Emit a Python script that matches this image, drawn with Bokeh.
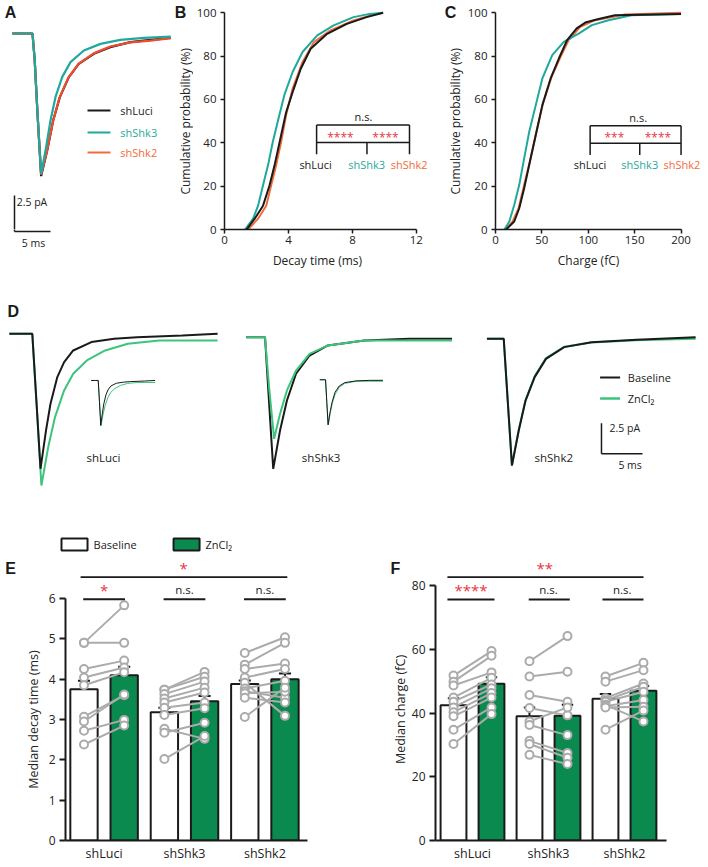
import math
import numpy as np
from bokeh.plotting import figure
from bokeh.layouts import column, row
from bokeh.models import Range1d, FixedTicker, Label
from bokeh.embed import file_html
from bokeh.resources import INLINE

FONT = "Open Sans"
LETTER_FONT = "Liberation Sans"
BLACK = "#1a1a1a"
TXT = "#222222"
TEAL = "#1fa99c"
ORANGE = "#f26b3a"
RED_A = "#ef4b2f"
GREEN_D = "#3cc47c"
ZN_FILL = "#0b8a4f"
GRAY = "#ababab"
STAR_RED = "#e8343f"

groups = ["shLuci", "shShk3", "shShk2"]

# ---------------- Panel A: averaged mEPSC traces (ms, pA)
a_luci_t = [-2.8, -1.0, 0.0, 0.3, 0.7, 1.2, 2.04, 2.87, 3.80, 5.05, 6.43, 8.52, 10.8, 13.6, 16.4, 19.2]
a_luci_i = [0, 0, 0, -1.8, -5.6, -9.9, -8.13, -6.04, -4.42, -3.03, -2.11, -1.41, -0.95, -0.60, -0.44, -0.30]
a_shk3_t = [-2.8, -1.0, 0.0, 0.3, 0.7, 1.2, 1.81, 2.5, 3.19, 4.12, 5.28, 7.13, 9.44, 12.2, 15.5, 19.2]
a_shk3_i = [0, 0, 0, -1.8, -5.6, -9.75, -8.13, -6.04, -4.42, -3.03, -1.99, -1.18, -0.72, -0.44, -0.30, -0.21]
a_shk2_t = [-2.8, -1.0, 0.0, 0.3, 0.7, 1.2, 2.0, 2.85, 3.75, 5.0, 6.4, 8.5, 10.8, 13.6, 16.4, 19.2]
a_shk2_i = [0, 0, 0, -1.8, -5.6, -9.8, -8.2, -6.1, -4.45, -3.05, -2.1, -1.38, -0.9, -0.62, -0.5, -0.32]

# ---------------- Panel B: cumulative decay time (ms, %)
decay_luci_ms = [1.38, 1.89, 2.41, 2.82, 3.13, 3.54, 3.85, 4.26, 4.77, 5.39, 6.42, 7.65, 8.89, 9.92]
decay_luci_pct = [0, 5, 11, 20.4, 29.6, 43.5, 54, 63.4, 74.2, 83.4, 90.3, 94.9, 98, 100]
decay_shk3_ms = [1.28, 1.79, 2.10, 2.41, 2.72, 3.02, 3.37, 3.74, 4.26, 4.88, 5.80, 6.83, 8.07, 9.09, 9.92]
decay_shk3_pct = [0, 5, 11, 20.4, 29.6, 40.4, 51, 62, 72.7, 81.9, 89.6, 94.2, 98, 99.5, 100]
decay_shk2_ms = [1.48, 2.10, 2.61, 2.92, 3.23, 3.54, 3.85, 4.26, 4.88, 5.60, 6.63, 8.07, 9.3, 9.92]
decay_shk2_pct = [0, 5, 11, 20.4, 29.6, 40.4, 52.7, 65, 77.3, 86.5, 91.9, 96.5, 99.1, 100]

# ---------------- Panel C: cumulative charge (fC, %)
charge_luci_fc = [11.4, 20.2, 25.6, 30.9, 36.3, 43.4, 50.5, 59.4, 68.3, 77.2, 87.5, 96.8, 110, 128.8, 200]
charge_luci_pct = [0, 3.7, 9.8, 19, 29.8, 43.6, 57.4, 69.7, 78.9, 87.4, 92.8, 95.5, 97.0, 98.9, 99.5]
charge_shk3_fc = [9.6, 14.9, 20.2, 25.6, 30.9, 36.3, 43.4, 50.5, 61.2, 73.6, 89.6, 103.9, 121.7, 146.6, 200]
charge_shk3_pct = [0, 3.7, 11.3, 20.6, 32.8, 45, 57.4, 69.7, 80.5, 86.6, 90.4, 94.3, 96.6, 98.9, 99.5]
charge_shk2_fc = [11.4, 18.5, 24.9, 30.9, 37.0, 44.1, 51.2, 60.5, 70.1, 78.9, 91.4, 107.4, 139.5, 200]
charge_shk2_pct = [0, 3.7, 9.8, 20.6, 31.3, 45, 58.2, 70.5, 79.7, 87.4, 93.5, 96.6, 99.2, 100]

# ---------------- Panel D: example traces, baseline vs ZnCl2 (ms from onset, pA)
d_luci_base_t = [-2.8, -1.0, 0.0, 0.5, 1.0, 1.67, 2.22, 3.05, 3.88, 4.99, 7.21, 9.98, 12.76, 18.3, 22.6]
d_luci_base_i = [0, 0, 0, -5.6, -11.25, -8.06, -5.83, -3.61, -2.36, -1.39, -0.69, -0.42, -0.28, -0.14, 0.0]
d_luci_zn_t = [-2.8, -1.0, 0.0, 0.5, 1.11, 1.94, 2.77, 3.88, 4.99, 6.66, 8.88, 11.65, 15.5, 22.6]
d_luci_zn_i = [0, 0, 0, -5.6, -12.64, -9.44, -6.94, -4.72, -3.33, -2.22, -1.39, -0.83, -0.56, -0.56]
d_shk3_base_t = [-2.3, -1.0, 0.0, 0.5, 1.0, 1.83, 2.67, 3.78, 5.43, 7.66, 12.1, 17.6, 22.8]
d_shk3_base_i = [0, 0, 0, -5.5, -10.97, -7.78, -5.28, -3.05, -1.53, -0.69, -0.28, -0.14, -0.14]
d_shk3_zn_t = [-2.3, -1.0, 0.0, 0.5, 1.11, 1.83, 2.67, 3.78, 5.43, 7.66, 12.1, 22.8]
d_shk3_zn_i = [0, 0, 0, -4.2, -8.47, -6.39, -4.44, -2.78, -1.39, -0.69, -0.28, -0.28]
d_shk2_base_t = [-2.05, -1.0, 0.0, 0.5, 1.0, 1.83, 2.66, 3.77, 5.15, 7.37, 10.7, 16.2, 23.4]
d_shk2_base_i = [0, 0, 0, -5.3, -10.56, -7.64, -5.14, -3.19, -1.67, -0.69, -0.28, -0.08, 0.14]
d_shk2_zn_t = [-2.05, -1.0, 0.0, 0.5, 1.0, 1.83, 2.66, 3.77, 5.15, 7.37, 10.7, 16.2, 23.4]
d_shk2_zn_i = [0, 0, 0, -5.3, -10.5, -7.6, -5.1, -3.12, -1.6, -0.66, -0.3, -0.12, 0.0]

# ---------------- Panel E: median decay time (ms)
E_bar_base = [3.75, 3.18, 3.88]
E_bar_zn = [4.10, 3.45, 4.00]
E_err_base = [3.96, 3.29, 3.97]
E_err_zn = [4.31, 3.58, 4.14]
E_pts_base = [
    [4.90, 4.90, 4.25, 4.04, 3.85, 3.07, 2.95, 2.72, 2.38],
    [3.74, 3.74, 3.63, 3.52, 3.42, 3.29, 3.11, 2.77, 2.67, 2.02],
    [4.65, 4.36, 4.25, 4.04, 3.91, 3.77, 3.70, 3.65, 3.54, 3.06],
]
E_pts_zn = [
    [5.83, 4.90, 4.46, 4.29, 4.17, 3.60, 3.62, 2.99, 2.85],
    [4.18, 4.06, 3.94, 3.79, 3.67, 3.42, 3.28, 2.52, 2.92, 2.59],
    [5.04, 4.90, 4.39, 4.25, 3.09, 3.96, 3.54, 3.69, 3.42, 3.79],
]
E_pair_sig = ["*", "n.s.", "n.s."]
E_all_sig = "*"

# ---------------- Panel F: median charge (fC)
F_bar_base = [42.5, 39.0, 44.5]
F_bar_zn = [49.2, 39.2, 47.0]
F_err_base = [44.7, 41.8, 46.0]
F_err_zn = [51.3, 42.6, 48.5]
F_pts_base = [
    [51.8, 49.9, 48.7, 44.9, 43.6, 41.8, 40.3, 39.0, 34.8, 30.3],
    [56.3, 51.5, 45.7, 41.6, 37.4, 36.3, 31.3, 30.3, 26.9],
    [51.5, 49.9, 44.7, 44.0, 43.6, 42.6, 42.2, 41.8, 34.8],
]
F_pts_zn = [
    [59.5, 58.0, 52.8, 51.1, 49.0, 47.8, 46.3, 44.9, 41.8, 39.7],
    [64.2, 53.0, 43.6, 39.3, 41.8, 33.1, 27.5, 26.0, 24.0],
    [55.8, 53.5, 49.3, 48.3, 46.7, 37.4, 44.1, 42.0, 40.8],
]
F_pair_sig = ["****", "n.s.", "n.s."]
F_all_sig = "**"


def label(p, x, y, text, size="12px", color=TXT, align="center", baseline="middle",
          bold=False, font=FONT, angle=0.0):
    p.add_layout(Label(x=x, y=y, text=text, text_font=font, text_font_size=size,
                       text_color=color, text_align=align, text_baseline=baseline,
                       text_font_style="bold" if bold else "normal", angle=angle))


def letter(p, x, y, text, align="center"):
    label(p, x, y, text, size="16px", bold=True, font=LETTER_FONT, color=BLACK, align=align)


def bare(w, h, xr, yr):
    p = figure(width=w, height=h, x_range=Range1d(*xr), y_range=Range1d(*yr),
               x_axis_location=None, y_axis_location=None, min_border=0,
               output_backend="svg", toolbar_location=None, tools="")
    p.outline_line_color = None
    p.grid.visible = False
    return p


def style_axes(p, lw, tick_out, size, label_size):
    for ax in p.axis:
        ax.axis_line_width = lw
        ax.axis_line_color = BLACK
        ax.major_tick_line_width = lw
        ax.major_tick_line_color = BLACK
        ax.major_tick_out = tick_out
        ax.major_tick_in = 0
        ax.minor_tick_line_color = None
        ax.major_label_text_font = FONT
        ax.major_label_text_font_size = size
        ax.major_label_text_color = TXT
        ax.axis_label_text_font = FONT
        ax.axis_label_text_font_size = label_size
        ax.axis_label_text_font_style = "normal"
        ax.axis_label_text_color = TXT
    p.grid.visible = False
    p.outline_line_color = None


# ======================= Panel A (its frame also hosts panel B's letter and y title)
A_X = (-4.444, 22.361)
pA = bare(193, 229, A_X, (-13.611, 2.292))
pAs = bare(193, 22, A_X, (-15.139, -13.611))     # continuation below (scale bar)
pA.line(a_luci_t, a_luci_i, line_color=BLACK, line_width=2.2)
pA.line(a_shk2_t, a_shk2_i, line_color=RED_A, line_width=2.2)
pA.line(a_shk3_t, a_shk3_i, line_color=TEAL, line_width=2.2)
a_leg_y = [-5.35, -6.875, -8.26]
a_leg_col = [BLACK, TEAL, ORANGE]
for name, col, yy in zip(groups, a_leg_col, a_leg_y):
    pA.segment(x0=[7.64], y0=[yy], x1=[10.83], y1=[yy], line_color=col, line_width=2)
    label(pA, 12.2, yy, name, size="11px", color=col if col != BLACK else TXT, align="left")
for q in (pA, pAs):
    q.segment(x0=[-2.5, -2.5], y0=[-11.25, -13.75], x1=[-2.5, 2.5], y1=[-13.75, -13.75],
              line_color=BLACK, line_width=1.5)
label(pA, -2.2, -11.71, "2.5 pA", size="10.5px", align="left")
label(pAs, 0.14, -14.58, "5 ms", size="10.5px")
letter(pA, -3.06, 1.46, "A")
letter(pA, 20.56, 1.49, "B")
label(pA, 21.25, -6.10, "Cumulative probability (%)", size="12px", angle=math.pi / 2)

# ======================= Panel B (frame extends right to host panel C's letter and y title)
pB = figure(width=271, height=251, x_range=Range1d(0, 15.01), y_range=Range1d(0, 105.68),
            min_border_left=28, min_border_right=0, min_border_top=0, min_border_bottom=22,
            output_backend="svg", toolbar_location=None, tools="")
pB.line(decay_shk2_ms, decay_shk2_pct, line_color=ORANGE, line_width=2)
pB.line(decay_shk3_ms, decay_shk3_pct, line_color=TEAL, line_width=2)
pB.line(decay_luci_ms, decay_luci_pct, line_color=BLACK, line_width=2)
pB.xaxis.ticker = FixedTicker(ticks=[0, 4, 8, 12])
pB.yaxis.ticker = FixedTicker(ticks=[0, 20, 40, 60, 80, 100])
pB.xaxis.bounds = (0, 12)
pB.yaxis.bounds = (0, 100)
style_axes(pB, 1.5, 4, "11.5px", "12px")
pB.yaxis.major_label_standoff = 4
pB.xaxis.major_label_standoff = 2
pB.segment(x0=[5.76, 5.76, 11.57, 5.76, 8.91], y0=[48.2, 48.2, 48.2, 40.1, 40.1],
           x1=[11.57, 5.76, 11.57, 11.57, 8.91], y1=[48.2, 34.7, 34.7, 40.1, 34.7],
           line_color=BLACK, line_width=1.5)
label(pB, 8.69, 52.2, "n.s.", size="11px")
label(pB, 7.25, 42.6, "****", size="12px", color=STAR_RED)
label(pB, 10.07, 42.6, "****", size="12px", color=STAR_RED)
label(pB, 5.70, 30.1, "shLuci", size="11px")
label(pB, 8.89, 30.1, "shShk3", size="11px", color=TEAL)
label(pB, 11.55, 30.1, "shShk2", size="11px", color=ORANGE)
letter(pB, 14.14, 100.37, "C")
label(pB, 14.45, 49.98, "Cumulative probability (%)", size="12px", angle=math.pi / 2)

# ======================= Panel C
pC = figure(width=244, height=251, x_range=Range1d(0, 229.6), y_range=Range1d(0, 105.68),
            min_border_left=29, min_border_right=0, min_border_top=0, min_border_bottom=22,
            output_backend="svg", toolbar_location=None, tools="")
pC.line(charge_shk2_fc, charge_shk2_pct, line_color=ORANGE, line_width=2)
pC.line(charge_shk3_fc, charge_shk3_pct, line_color=TEAL, line_width=2)
pC.line(charge_luci_fc, charge_luci_pct, line_color=BLACK, line_width=2)
pC.xaxis.ticker = FixedTicker(ticks=[0, 50, 100, 150, 200])
pC.yaxis.ticker = FixedTicker(ticks=[0, 20, 40, 60, 80, 100])
pC.xaxis.bounds = (0, 200)
pC.yaxis.bounds = (0, 100)
style_axes(pC, 1.5, 4, "11.5px", "12px")
pC.yaxis.major_label_standoff = 4
pC.xaxis.major_label_standoff = 2
pC.segment(x0=[102, 102, 200, 102, 155.5], y0=[47.9, 47.9, 47.9, 39.8, 39.8],
           x1=[200, 102, 200, 200, 155.5], y1=[47.9, 34.4, 34.4, 39.8, 34.4],
           line_color=BLACK, line_width=1.5)
label(pC, 153.8, 51.6, "n.s.", size="11px")
label(pC, 128.1, 42.3, "***", size="12px", color=STAR_RED)
label(pC, 175.1, 42.3, "****", size="12px", color=STAR_RED)
label(pC, 102, 29.8, "shLuci", size="11px")
label(pC, 155.5, 29.8, "shShk3", size="11px", color=TEAL)
label(pC, 201, 29.8, "shShk2", size="11px", color=ORANGE)

# strip under row 1 carrying the x-axis titles of B and C (page pixel coordinates)
pXT = bare(708, 17, (0, 708), (268, 251))
label(pXT, 317, 259.5, "Decay time (ms)", size="12px")
label(pXT, 588, 259.5, "Charge (fC)", size="12px")

# ======================= Panel D
pD = bare(708, 232, (-3.878, 82.46), (-13.89, 5.44))
d_onset = [0.0, 28.38, 57.49]          # horizontal placement of each example
d_base = [0.0, -0.28, -0.42]           # vertical placement of each example
traces = [
    (d_luci_base_t, d_luci_base_i, d_luci_zn_t, d_luci_zn_i),
    (d_shk3_base_t, d_shk3_base_i, d_shk3_zn_t, d_shk3_zn_i),
    (d_shk2_base_t, d_shk2_base_i, d_shk2_zn_t, d_shk2_zn_i),
]
for k, (bt, bi, zt, zi) in enumerate(traces):
    bt = np.array(bt) + d_onset[k]
    zt = np.array(zt) + d_onset[k]
    bi = np.array(bi) + d_base[k]
    zi = np.array(zi) + d_base[k]
    if k == 1:
        pD.line(bt, bi, line_color=BLACK, line_width=2)
        pD.line(zt, zi, line_color=GREEN_D, line_width=2)
    else:
        pD.line(zt, zi, line_color=GREEN_D, line_width=2)
        pD.line(bt, bi, line_color=BLACK, line_width=2)
# peak-normalised insets
inset_onset = [8.04, 35.76]
inset_base = [-3.89, -3.83]
for k in range(2):
    bt, bi, zt, zi = traces[k]
    bi = np.array(bi); zi = np.array(zi)
    pD.line(inset_onset[k] + np.array(zt) * 0.307, inset_base[k] + zi / abs(zi.min()) * 3.75,
            line_color=GREEN_D, line_width=1)
    pD.line(inset_onset[k] + np.array(bt) * 0.307, inset_base[k] + bi / abs(bi.min()) * 3.75,
            line_color=BLACK, line_width=1)
for name, xx in zip(groups, [6.61, 32.87, 61.24]):
    label(pD, xx, -10.31, name, size="11.5px", align="left")
pD.segment(x0=[69.24], y0=[-3.64], x1=[71.68], y1=[-3.64], line_color=BLACK, line_width=2)
pD.segment(x0=[69.24], y0=[-5.39], x1=[71.68], y1=[-5.39], line_color=GREEN_D, line_width=2.5)
label(pD, 72.62, -3.64, "Baseline", size="11px", align="left")
label(pD, 72.62, -5.39, "ZnCl₂", size="11px", align="left")
pD.segment(x0=[69.41, 69.41], y0=[-7.45, -10.0], x1=[69.41, 74.41], y1=[-10.0, -10.0],
           line_color=BLACK, line_width=1.5)
label(pD, 70.4, -7.81, "2.5 pA", size="10.5px", align="left")
label(pD, 72.9, -10.9, "5 ms", size="10.5px")
letter(pD, -3.02, 1.86, "D", align="left")


# ======================= Panels E / F
def bar_panel(w, h, mb, xr, yr, yticks, ybound, ylabel, bar_b, bar_z, err_b, err_z,
              pts_b, pts_z, cap):
    p = figure(width=w, height=h, x_range=Range1d(*xr), y_range=Range1d(*yr),
               min_border_left=mb[0], min_border_right=mb[1], min_border_top=mb[2],
               min_border_bottom=mb[3], output_backend="svg", toolbar_location=None, tools="")
    idx = np.arange(3)
    p.vbar(x=idx - 0.25, top=bar_b, width=0.34, fill_color="white", line_color=BLACK, line_width=2)
    p.vbar(x=idx + 0.25, top=bar_z, width=0.34, fill_color=ZN_FILL, line_color=BLACK, line_width=2)
    for off, top, err in [(-0.25, bar_b, err_b), (0.25, bar_z, err_z)]:
        xs = idx + off
        p.segment(x0=xs, y0=top, x1=xs, y1=err, line_color=BLACK, line_width=2)
        p.segment(x0=xs - cap, y0=err, x1=xs + cap, y1=err, line_color=BLACK, line_width=2)
    for g in range(3):
        b = pts_b[g]; z = pts_z[g]
        p.segment(x0=[g - 0.25] * len(b), y0=b, x1=[g + 0.25] * len(z), y1=z,
                  line_color=GRAY, line_width=2)
        p.scatter([g - 0.25] * len(b), b, size=8, fill_color="white", line_color=GRAY, line_width=2)
        p.scatter([g + 0.25] * len(z), z, size=8, fill_color="white", line_color=GRAY, line_width=2)
    p.yaxis.ticker = FixedTicker(ticks=yticks)
    p.yaxis.bounds = ybound
    p.xaxis.ticker = FixedTicker(ticks=[0, 1, 2])
    p.xaxis.major_label_overrides = {0: groups[0], 1: groups[1], 2: groups[2]}
    if ylabel:
        p.yaxis.axis_label = ylabel
    style_axes(p, 2, 6, "12px", "12.5px")
    p.xaxis.major_label_text_font_size = "12.5px"
    p.xaxis.major_tick_line_color = None
    p.xaxis.major_tick_out = 0
    p.xaxis.major_label_standoff = 4
    p.yaxis.major_label_standoff = 4
    return p


# strips above E and F (significance bars, legend, letters)
sE = bare(350, 78, (-1.258, 3.0594), (6.496, 8.43))
sF = bare(358, 78, (-1.605, 3.105), (82.29, 106.8))
# strip left of E (its y title, page pixel coordinates; frame aligned with E's frame)
lE = bare(45, 289, (0, 45), (840, 578))
label(lE, 33.3, 719, "Median decay time (ms)", size="12.5px", angle=math.pi / 2)

pE = bar_panel(305, 289, (18, 43, 0, 27), (-0.48, 2.53), (0, 6.496), [0, 1, 2, 3, 4, 5, 6], (0, 6),
               None, E_bar_base, E_bar_zn, E_err_base, E_err_zn, E_pts_base, E_pts_zn, 0.075)
for g, s in enumerate(E_pair_sig):
    pE.segment(x0=[g - 0.26], y0=[5.98], x1=[g + 0.26], y1=[5.98], line_color=BLACK, line_width=2)
    if s.startswith("*"):
        label(pE, g, 6.20, s, size="15px", color=STAR_RED)
    else:
        label(pE, g, 6.22, s, size="11.5px")
sE.segment(x0=[-0.27], y0=[6.53], x1=[2.28], y1=[6.53], line_color=BLACK, line_width=2)
label(sE, 1.0, 6.75, E_all_sig, size="15px", color=STAR_RED)
sE.rect(x=[-0.345, 1.037], y=[7.34, 7.34], width=0.321, height=0.30,
        fill_color=["white", ZN_FILL], line_color=BLACK, line_width=2)
label(sE, -0.11, 7.34, "Baseline", size="11px", align="left")
label(sE, 1.27, 7.34, "ZnCl₂", size="11px", align="left")
letter(sE, -1.135, 6.74, "E")

pF = bar_panel(358, 289, (85, 42, 0, 27), (-0.487, 2.553), (0, 82.29), [0, 20, 40, 60, 80], (0, 80),
               "Median charge (fC)", F_bar_base, F_bar_zn, F_err_base, F_err_zn,
               F_pts_base, F_pts_zn, 0.075)
pF.yaxis.axis_label_standoff = 0
pair_span = [(-0.33, 0.29), (0.74, 1.28), (1.71, 2.25)]
pair_lab_x = [-0.02, 1.0, 1.97]
for g, s in enumerate(F_pair_sig):
    pF.segment(x0=[pair_span[g][0]], y0=[75.7], x1=[pair_span[g][1]], y1=[75.7],
               line_color=BLACK, line_width=2)
    if s.startswith("*"):
        label(pF, pair_lab_x[g], 78.6, s, size="15px", color=STAR_RED)
    else:
        label(pF, pair_lab_x[g], 78.8, s, size="11.5px")
sF.segment(x0=[-0.33], y0=[82.7], x1=[2.25], y1=[82.7], line_color=BLACK, line_width=2)
label(sF, 0.95, 85.6, F_all_sig, size="15px", color=STAR_RED)
letter(sF, -1.013, 85.4, "F")

layout = column(
    row(column(pA, pAs), pB, pC),
    pXT,
    pD,
    row(sE, sF),
    row(lE, pE, pF),
)
open("out.html", "w").write(file_html(layout, INLINE))
